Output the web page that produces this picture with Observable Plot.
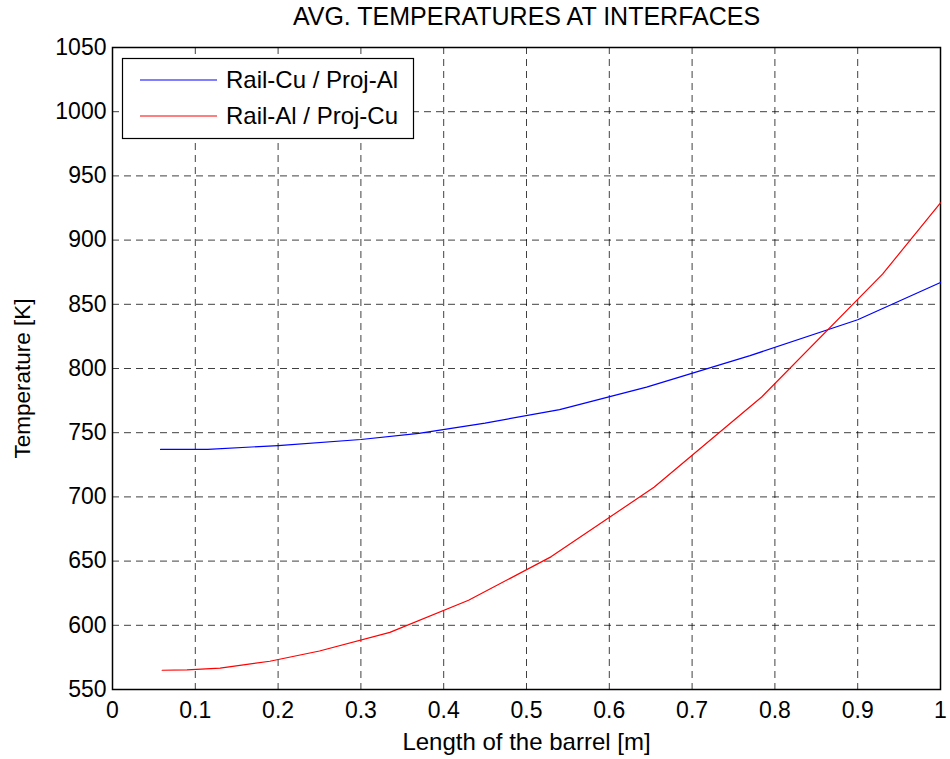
<!DOCTYPE html>
<html>
<head>
<meta charset="utf-8">
<script src="https://cdn.jsdelivr.net/npm/d3@7"></script>
<script src="https://cdn.jsdelivr.net/npm/@observablehq/plot@0.6"></script>
<style>
  html, body { margin: 0; padding: 0; background: #fff; }
</style>
</head>
<body>
<div id="chart"></div>
<script>
const titleText = "AVG. TEMPERATURES AT INTERFACES";
const xLabel = "Length of the barrel [m]";
const yLabel = "Temperature [K]";
const seriesNames = ["Rail-Cu / Proj-Al", "Rail-Al / Proj-Cu"];
const seriesColors = ["#0000ff", "#ff0000"];

const xTicks = [0, 0.1, 0.2, 0.3, 0.4, 0.5, 0.6, 0.7, 0.8, 0.9, 1];
const yTicks = [550, 600, 650, 700, 750, 800, 850, 900, 950, 1000, 1050];

const xCuAl = [0.058, 0.115, 0.2, 0.3, 0.37, 0.45, 0.54, 0.645, 0.77, 0.9, 1.0];
const tCuAl = [737, 737, 740, 744.7, 749.5, 757.5, 768, 785.5, 810, 838, 867];

const xAlCu = [0.06, 0.09, 0.13, 0.19, 0.25, 0.335, 0.43, 0.53, 0.654, 0.784, 0.93, 1.0];
const tAlCu = [565, 565.3, 566.7, 572, 580, 594.5, 619.5, 653.5, 707.5, 777.8, 873.5, 929];

const dataCuAl = xCuAl.map((x, i) => ({x, t: tCuAl[i]}));
const dataAlCu = xAlCu.map((x, i) => ({x, t: tAlCu[i]}));

const font = "'Liberation Sans', Arial, Helvetica, sans-serif";
const fmt = d => String(d);

const chart = Plot.plot({
  width: 950,
  height: 759,
  marginLeft: 112,
  marginRight: 10,
  marginTop: 47,
  marginBottom: 70,
  style: {fontFamily: font, fontSize: "23px", background: "#fff", color: "#000", overflow: "visible"},
  x: {domain: [0, 1]},
  y: {domain: [550, 1050]},
  marks: [
    Plot.gridX(xTicks.slice(1, -1), {stroke: "#000", strokeOpacity: 0.75, strokeWidth: 1, strokeDasharray: "7,5"}),
    Plot.gridY(yTicks.slice(1, -1), {stroke: "#000", strokeOpacity: 0.75, strokeWidth: 1, strokeDasharray: "7,5"}),
    Plot.frame({stroke: "#000", strokeWidth: 1.5}),
    Plot.line(dataCuAl, {x: "x", y: "t", stroke: seriesColors[0], strokeWidth: 1.2}),
    Plot.line(dataAlCu, {x: "x", y: "t", stroke: seriesColors[1], strokeWidth: 1.2}),
    Plot.axisX(xTicks, {tickSize: 0, tickPadding: 12, tickFormat: fmt, label: null, fontSize: 23}),
    Plot.axisY(yTicks, {tickSize: 0, tickPadding: 6, tickFormat: fmt, label: null, fontSize: 23}),
    Plot.text([titleText], {frameAnchor: "top", textAnchor: "middle", lineAnchor: "middle", dy: -31, fontSize: 25}),
    Plot.text([xLabel], {frameAnchor: "bottom", textAnchor: "middle", lineAnchor: "middle", dy: 53, fontSize: 24}),
    Plot.text([yLabel], {frameAnchor: "left", textAnchor: "middle", lineAnchor: "middle", dx: -90, dy: 10, rotate: -90, fontSize: 22.5})
  ]
});

document.getElementById("chart").appendChild(chart);

// Legend box (layout element, top-left inside the axes)
const svg = d3.select(chart);
const lg = svg.append("g").attr("font-family", font).attr("font-size", 24).attr("text-anchor", "start");
lg.append("rect").attr("x", 122.5).attr("y", 58.5).attr("width", 291).attr("height", 80)
  .attr("fill", "#fff").attr("stroke", "#000").attr("stroke-width", 1.2);
seriesNames.forEach((name, i) => {
  const cy = 80 + i * 36;
  lg.append("line").attr("x1", 140).attr("x2", 217).attr("y1", cy).attr("y2", cy)
    .attr("stroke", seriesColors[i]).attr("stroke-width", 1.2);
  lg.append("text").attr("x", 226).attr("y", cy).attr("dy", "0.35em").attr("fill", "#000")
    .attr("text-anchor", "start").text(name);
});
</script>
</body>
</html>
